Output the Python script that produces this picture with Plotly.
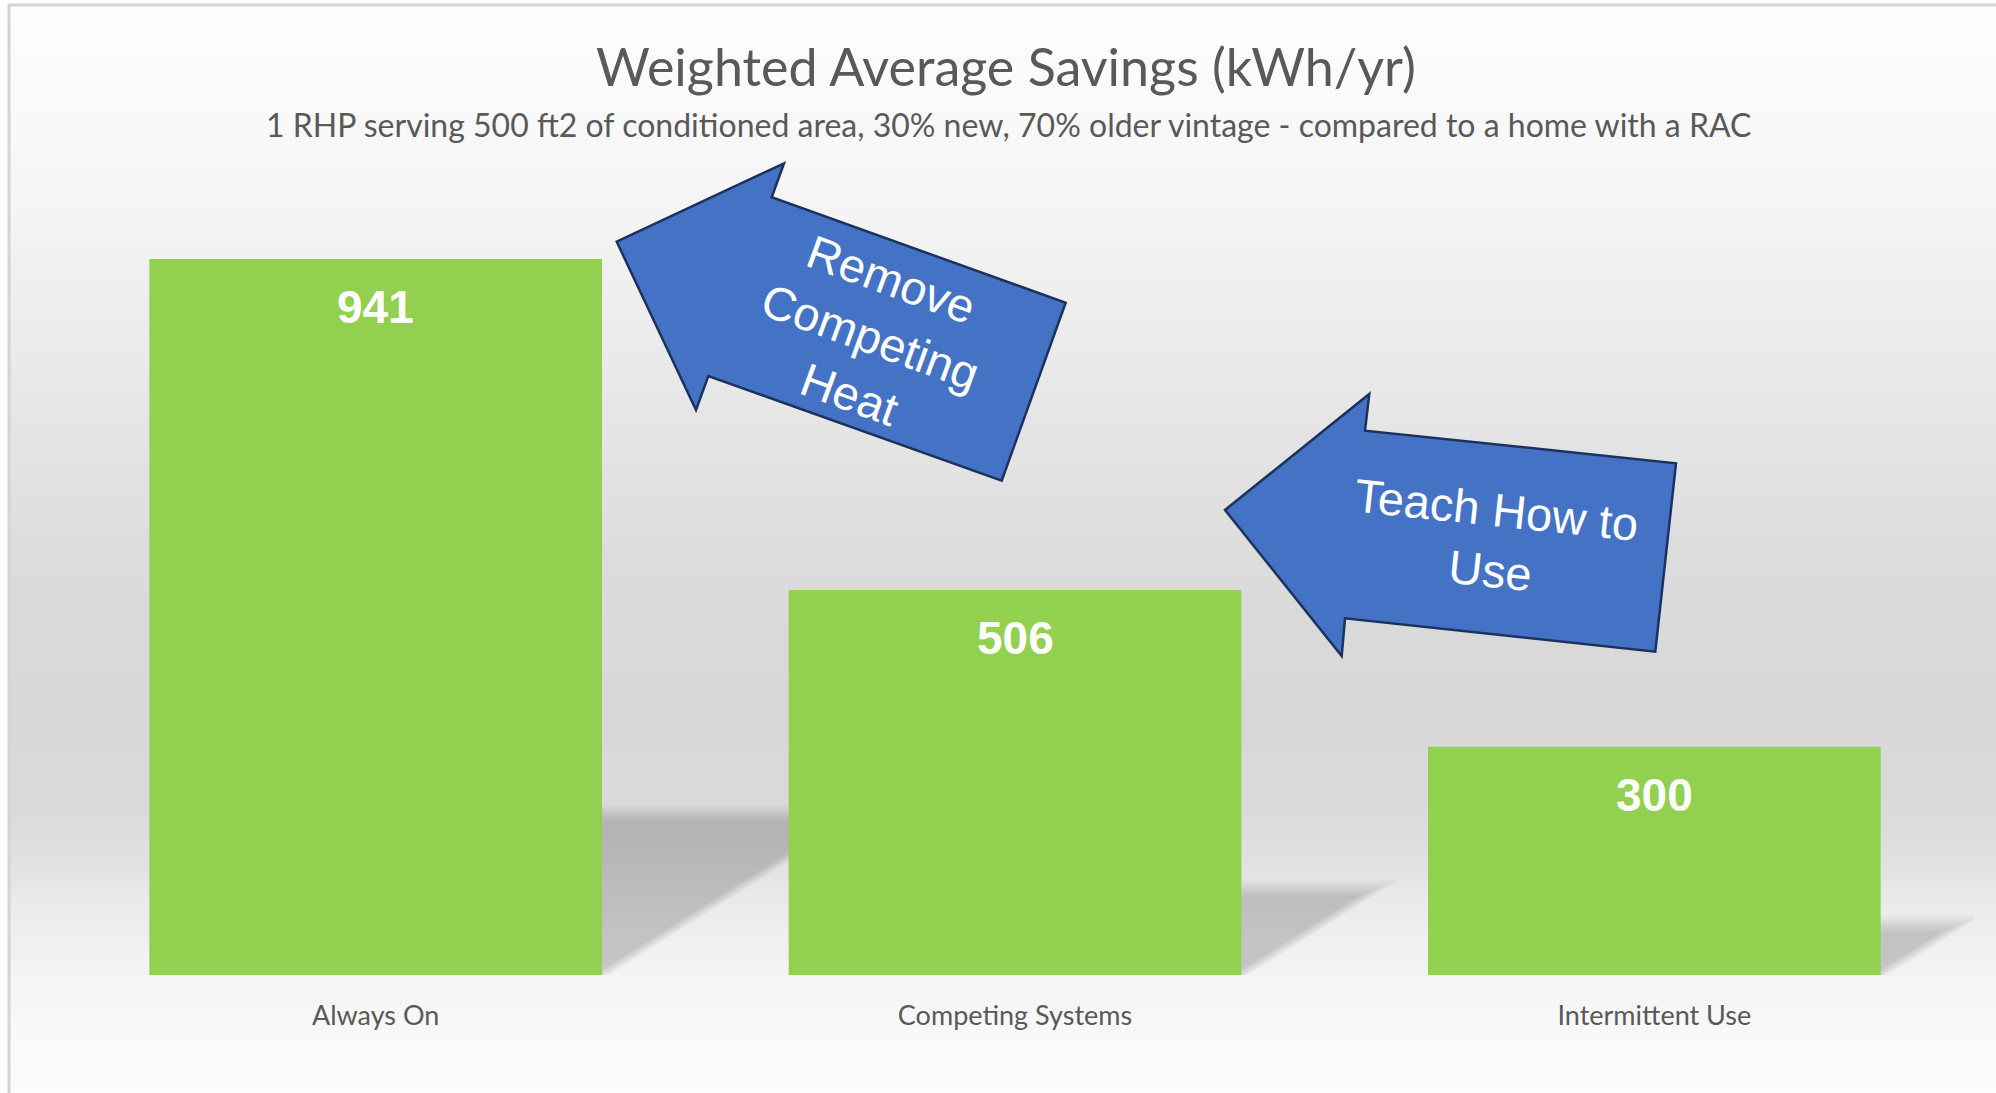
import plotly.graph_objects as go

# ---------------- data ----------------
categories = ["Always On", "Competing Systems", "Intermittent Use"]
savings = [941, 506, 300]
title_text = "Weighted Average Savings (kWh/yr)"
subtitle_text = ("1 RHP serving 500 ft2 of conditioned area, 30% new, 70% older vintage"
                 " - compared to a home with a RAC")
arrow_labels = ["Remove<br>Competing<br>Heat", "Teach How to<br>Use"]

# ---------------- geometry helpers ----------------
W, H = 1996, 1093
L, R, T, B = 56, 22, 214, 118
PW, PH = W - L - R, H - T - B
Y_MAX = 1000
BAR_W = 0.708


def px(xp):
    return (xp - L) / PW


def py(yp):
    return (H - B - yp) / PH


def lerp_gray(y, stops):
    for (y0, g0), (y1, g1) in zip(stops[:-1], stops[1:]):
        if y0 <= y <= y1:
            t = (y - y0) / (y1 - y0)
            return g0 + (g1 - g0) * t
    return stops[-1][1]


shapes = []

# background gradient (Excel-like)
grad_stops = [(0, 253), (100, 250), (200, 245), (300, 238), (400, 231), (500, 224),
              (600, 218), (700, 216), (800, 217), (860, 224), (900, 234), (960, 242),
              (1000, 246), (1050, 250), (1093, 252)]
step = 6
for y in range(5, H, step):
    g = int(round(lerp_gray(y + step / 2, grad_stops)))
    shapes.append(dict(type="rect", xref="paper", yref="paper", layer="below",
                       x0=px(9), x1=px(W + 5), y0=py(y), y1=py(y + step + 1),
                       fillcolor=f"rgb({g},{g},{g})", line=dict(width=0)))

# frame
shapes.append(dict(type="line", xref="paper", yref="paper", layer="below",
                   x0=px(8), x1=px(W + 5), y0=py(5), y1=py(5),
                   line=dict(color="#d4d4d4", width=3)))
shapes.append(dict(type="line", xref="paper", yref="paper", layer="below",
                   x0=px(9), x1=px(9), y0=py(4), y1=py(H + 5),
                   line=dict(color="#d4d4d4", width=3)))

# perspective shadows behind bars (derived from data values)
px_per_cat = PW / 3.0
px_per_unit = PH / Y_MAX
for i, v in enumerate(savings):
    h_top = 0.227 * v
    shift = 0.359 * v * px_per_unit / px_per_cat
    for e in [-8, -5, -2, 1, 4, 7]:
        ex = e / px_per_cat
        ey = e / px_per_unit
        xl, xr = i - BAR_W / 2, i + BAR_W / 2 + ex
        yt = h_top + ey
        path = (f"M {xl} 0 L {xr} 0 L {xr + shift * yt / h_top} {yt} "
                f"L {xl + shift * yt / h_top} {yt} Z")
        shapes.append(dict(type="path", xref="x", yref="y", layer="below", path=path,
                           fillcolor="rgba(0,0,0,0.032)", line=dict(width=0)))

# block arrows (callouts)
arrow_polys = [
    [(616.7, 241.7), (784, 163.3), (771.7, 197.3), (1065.7, 302.7),
     (1001.7, 480.7), (708.3, 376), (696, 410)],
    [(1225, 510), (1369.3, 394), (1365, 430.7), (1676, 463.3),
     (1655.3, 651.7), (1345, 618.3), (1341.7, 656)],
]
for poly in arrow_polys:
    path = "M " + " L ".join(f"{px(a)} {py(b)}" for a, b in poly) + " Z"
    shapes.append(dict(type="path", xref="paper", yref="paper", layer="above",
                       path=path, fillcolor="#4472C4",
                       line=dict(color="#1c325e", width=2.5)))

# ---------------- figure ----------------
x_idx = list(range(len(categories)))
fig = go.Figure(go.Bar(x=x_idx, y=savings, width=BAR_W,
                       marker=dict(color="#92D050", line=dict(width=0)),
                       hoverinfo="skip"))

annotations = []
annotations.append(dict(text=title_text, xref="paper", yref="paper",
                        x=px(1006), y=py(66), xanchor="center", yanchor="middle",
                        showarrow=False,
                        font=dict(family="Lato, sans-serif", size=52, color="#595959")))
annotations.append(dict(text=subtitle_text, xref="paper", yref="paper",
                        x=px(1008), y=py(124), xanchor="center", yanchor="middle",
                        showarrow=False,
                        font=dict(family="Lato, sans-serif", size=32, color="#595959")))
for i, v in enumerate(savings):
    annotations.append(dict(text=f"<b>{v}</b>", x=i, y=v, xref="x", yref="y",
                            xanchor="center", yanchor="middle", yshift=-48,
                            showarrow=False,
                            font=dict(family="Liberation Sans, Arial, sans-serif",
                                      size=46, color="white")))
arrow_text_pos = [((870, 336), 20), ((1493, 540), 6)]
for lbl, ((ax_, ay_), ang) in zip(arrow_labels, arrow_text_pos):
    annotations.append(dict(text=lbl, xref="paper", yref="paper",
                            x=px(ax_), y=py(ay_), xanchor="center", yanchor="middle",
                            textangle=ang, showarrow=False,
                            font=dict(family="Liberation Sans, Arial, sans-serif",
                                      size=47, color="white")))

fig.update_layout(
    width=W, height=H,
    margin=dict(l=L, r=R, t=T, b=B, autoexpand=False),
    paper_bgcolor="white", plot_bgcolor="rgba(0,0,0,0)",
    showlegend=False,
    shapes=shapes, annotations=annotations,
    xaxis=dict(range=[-0.5, 2.5], tickvals=x_idx, ticktext=categories,
               showgrid=False, zeroline=False, showline=False, ticks="",
               ticklabelstandoff=22,
               tickfont=dict(family="Lato, sans-serif", size=27, color="#595959")),
    yaxis=dict(range=[0, Y_MAX], visible=False, showgrid=False, zeroline=False),
)

fig.write_html("out.html",
               config={"displayModeBar": False},
               post_script="document.body.style.margin='0px';"
                           "document.body.style.overflow='hidden';")
